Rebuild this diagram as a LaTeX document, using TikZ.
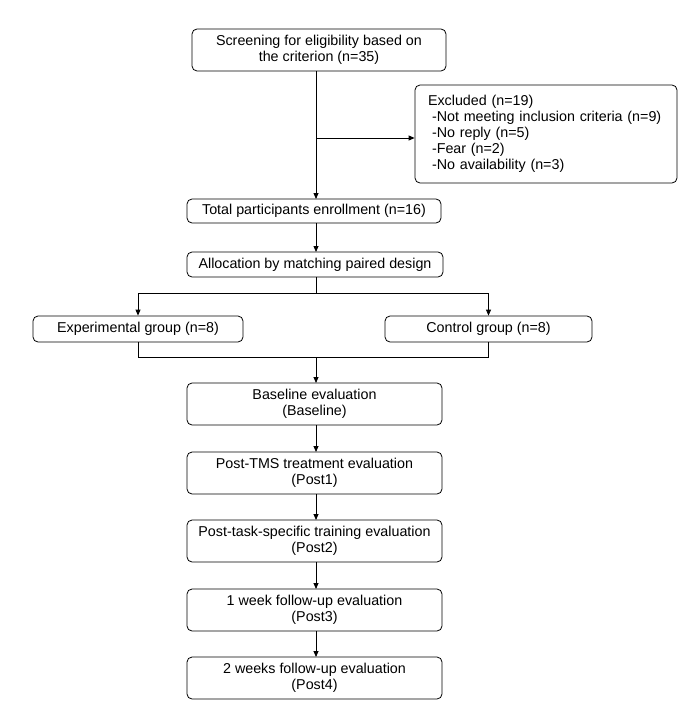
\documentclass[tikz,border=0pt]{standalone}
\usepackage{fontspec}
\setmainfont{Liberation Sans}
\usetikzlibrary{arrows.meta}
\begin{document}
\begin{tikzpicture}[x=1pt,y=-1pt,
  box/.style={draw, rounded corners=5pt, line width=0.8pt, align=center, inner sep=0pt,
    font=\fontsize{14.3}{16}\selectfont},
  conn/.style={line width=0.8pt},
  arr/.style={line width=0.8pt, -{Triangle[length=6pt,width=5pt]}}]
\useasboundingbox (0,0) rectangle (685,725);
\node[box, minimum width=254pt, minimum height=42pt] (screen) at (319,50) {Screening for eligibility based on\\the criterion (n=35)};
\node[box, minimum width=262pt, minimum height=98pt, align=left, text width=236pt] (excl) at (546,134) {Excluded (n=19)\\\hspace*{4pt}-Not meeting inclusion criteria (n=9)\\\hspace*{4pt}-No reply (n=5)\\\hspace*{4pt}-Fear (n=2)\\\hspace*{4pt}-No availability (n=3)};
\node[box, minimum width=254pt, minimum height=24pt] (enroll) at (314,211) {Total participants enrollment (n=16)};
\node[box, minimum width=256pt, minimum height=25pt] (alloc) at (315,264.5) {Allocation by matching paired design};
\node[box, minimum width=210pt, minimum height=26pt] (exp) at (138,329) {Experimental group (n=8)};
\node[box, minimum width=207pt, minimum height=26pt] (ctrl) at (488.5,329) {Control group (n=8)};
\node[box, minimum width=255pt, minimum height=42pt] (base) at (314.5,404) {Baseline evaluation\\(Baseline)};
\node[box, minimum width=255pt, minimum height=42pt] (p1) at (314.5,473) {Post-TMS treatment evaluation\\(Post1)};
\node[box, minimum width=255pt, minimum height=42pt] (p2) at (314.5,541) {Post-task-specific training evaluation\\(Post2)};
\node[box, minimum width=255pt, minimum height=42pt] (p3) at (314.5,610) {1 week follow-up evaluation\\(Post3)};
\node[box, minimum width=255pt, minimum height=42pt] (p4) at (314.5,678) {2 weeks follow-up evaluation\\(Post4)};
\coordinate (j1) at (316,138);
\coordinate (s1) at (316,293);
\coordinate (m1) at (316,357);
\draw[arr] (316,71) -- (316,199);
\draw[arr] (j1) -- (excl.west |- j1);
\draw[arr] (316,223) -- (316,252);
\draw[conn] (316,277) -- (s1);
\draw[arr] (s1) -| (exp.north);
\draw[arr] (s1) -| (ctrl.north);
\draw[conn] (exp.south) |- (m1);
\draw[conn] (ctrl.south) |- (m1);
\draw[arr] (m1) -- (316,383);
\draw[arr] (316,425) -- (316,452);
\draw[arr] (316,494) -- (316,520);
\draw[arr] (316,562) -- (316,589);
\draw[arr] (316,631) -- (316,657);
\end{tikzpicture}
\end{document}
